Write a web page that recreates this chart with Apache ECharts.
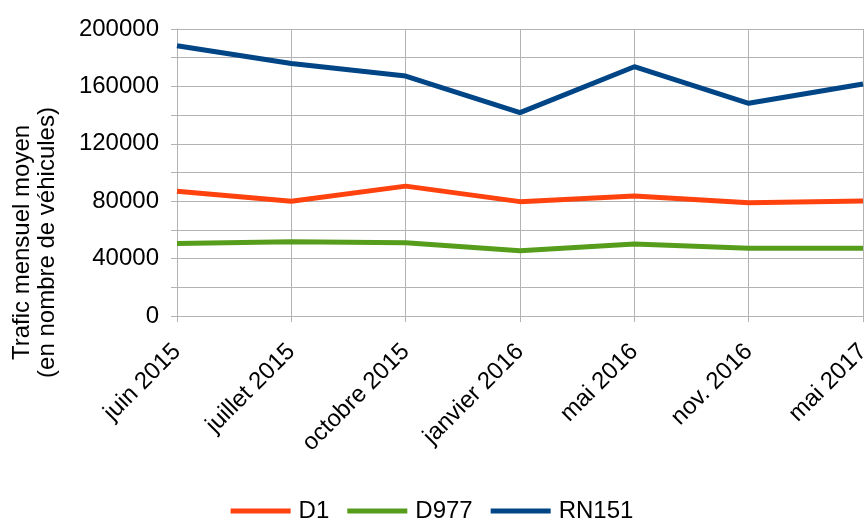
<!DOCTYPE html>
<html>
<head>
<meta charset="utf-8">
<script src="https://cdn.jsdelivr.net/npm/echarts@6/dist/echarts.min.js"></script>
<style>
  html, body { margin: 0; padding: 0; background: #fff; }
  #chart { width: 864px; height: 519px; }
</style>
</head>
<body>
<div id="chart"></div>
<script>
const categories = ['juin 2015', 'juillet 2015', 'octobre 2015', 'janvier 2016', 'mai 2016', 'nov. 2016', 'mai 2017']
const d1 = [87000, 80000, 90500, 79700, 83600, 79000, 80100]
const d977 = [50600, 51800, 51100, 45500, 50200, 47200, 47200]
const rn151 = [188300, 176000, 167200, 141700, 173700, 148200, 161700]

const font = 'Liberation Sans, Arial, sans-serif'
const grey = '#b3b3b3'

const chart = echarts.init(document.getElementById('chart'))

const line = (name, data, color) => ({
  name,
  type: 'line',
  data,
  symbol: 'none',
  lineStyle: { width: 5, color },
  itemStyle: { color },
})

chart.setOption({
  animation: false,
  textStyle: { fontFamily: font },
  grid: { left: 177, right: 1, top: 29, bottom: 203, outerBoundsMode: 'none' },
  legend: {
    bottom: -9,
    left: 'center',
    icon: 'rect',
    itemWidth: 60,
    itemHeight: 5,
    itemGap: 18,
    textStyle: { fontFamily: font, fontSize: 24, color: '#000', padding: [0, 0, 0, 3] },
    data: ['D1', 'D977', 'RN151'],
  },
  xAxis: {
    type: 'category',
    data: categories,
    boundaryGap: false,
    axisLine: { lineStyle: { color: grey } },
    axisTick: { show: true, length: 6, lineStyle: { color: grey } },
    splitLine: { show: true, lineStyle: { color: grey } },
    axisLabel: {
      rotate: 45,
      fontFamily: font,
      fontSize: 24,
      color: '#000',
      margin: 32,
      interval: 0,
    },
  },
  yAxis: {
    type: 'value',
    min: 0,
    max: 200000,
    interval: 20000,
    name: 'Trafic mensuel moyen\n(en nombre de véhicules)',
    nameLocation: 'middle',
    nameGap: 117,
    nameTextStyle: { fontFamily: font, fontSize: 24, color: '#000', lineHeight: 25, padding: [0, 140, 0, 0] },
    axisLine: { show: true, lineStyle: { color: grey } },
    axisTick: { show: true, length: 6, lineStyle: { color: grey } },
    splitLine: { show: true, lineStyle: { color: grey } },
    axisLabel: {
      fontFamily: font,
      fontSize: 24,
      color: '#000',
      margin: 18,
      formatter: v => (v % 40000 === 0 ? String(v) : ''),
    },
  },
  series: [
    line('D1', d1, '#ff420e'),
    line('D977', d977, '#579d1c'),
    line('RN151', rn151, '#004586'),
  ],
})
</script>
</body>
</html>
